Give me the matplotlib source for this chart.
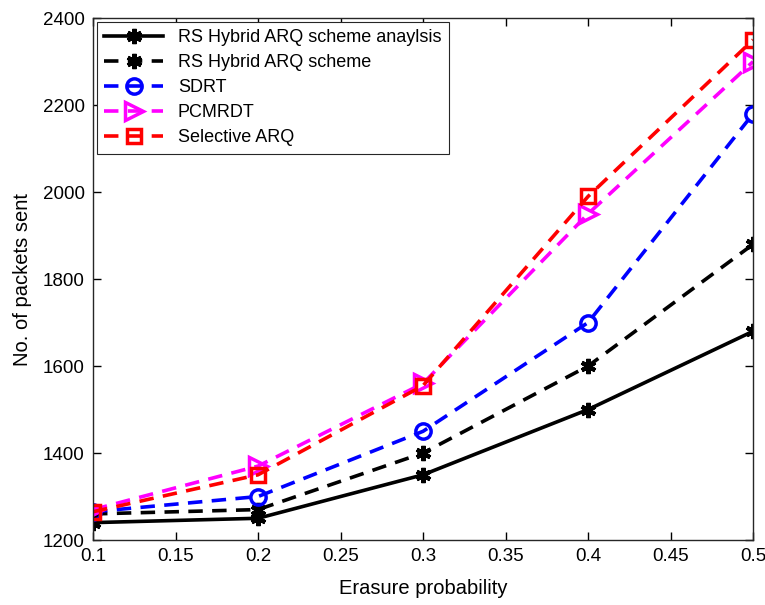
import numpy as np
import matplotlib.pyplot as plt

plt.rcParams['font.family'] = ['Liberation Sans', 'DejaVu Sans']

# erasure probability on x
p = [0.1, 0.2, 0.3, 0.4, 0.5]

# packets sent for each scheme
rs_analysis = [1240, 1250, 1350, 1500, 1680]
rs_scheme = [1260, 1270, 1400, 1600, 1880]
sdrt = [1265, 1300, 1450, 1700, 2180]
pcmrdt = [1270, 1370, 1560, 1950, 2300]
selective = [1265, 1350, 1555, 1990, 2350]

fig = plt.figure(figsize=(7.65, 6.05), dpi=100)
ax = fig.add_axes([0.1216, 0.1074, 0.8628, 0.8626])

lw = 2.6
dash = (4, 2.6)
ax.plot(p, rs_analysis, '-', color='k', marker=(6, 2, 0), ms=11, mew=3, lw=lw,
        label='RS Hybrid ARQ scheme anaylsis')
ax.plot(p, rs_scheme, '--', dashes=dash, color='k', marker=(6, 2, 0), ms=11, mew=3, lw=lw,
        label='RS Hybrid ARQ scheme')
ax.plot(p, sdrt, '--', dashes=dash, color='b', marker='o', ms=11, mew=2.5, mfc='none', lw=lw,
        label='SDRT')
ax.plot(p, pcmrdt, '--', dashes=dash, color='magenta', marker='>', ms=13, mew=2.5, mfc='none', lw=lw,
        label='PCMRDT')
ax.plot(p, selective, '--', dashes=dash, color='r', marker='s', ms=10, mew=2.5, mfc='none', lw=lw,
        label='Selective ARQ')

ax.set_xlim(0.1, 0.5)
ax.set_ylim(1200, 2400)
ax.set_xticks(np.arange(0.1, 0.51, 0.05))
ax.set_xticklabels(['0.1', '0.15', '0.2', '0.25', '0.3', '0.35', '0.4', '0.45', '0.5'])
ax.set_yticks(np.arange(1200, 2401, 200))
ax.tick_params(direction='in', top=True, right=True, labelsize=13.5, length=6, width=1, pad=6)
for s in ax.spines.values():
    s.set_linewidth(1.0)
    s.set_color('#262626')

ax.set_xlabel('Erasure probability', fontsize=14.5, labelpad=10)
ax.set_ylabel('No. of packets sent', fontsize=14.5, labelpad=8)

leg = ax.legend(loc='upper left', fontsize=13, fancybox=False, framealpha=1,
                edgecolor='#262626', borderaxespad=0.2, handlelength=3.3,
                labelspacing=0.45, borderpad=0.4)
leg.get_frame().set_linewidth(0.8)

fig.savefig('out.png', dpi=100)
